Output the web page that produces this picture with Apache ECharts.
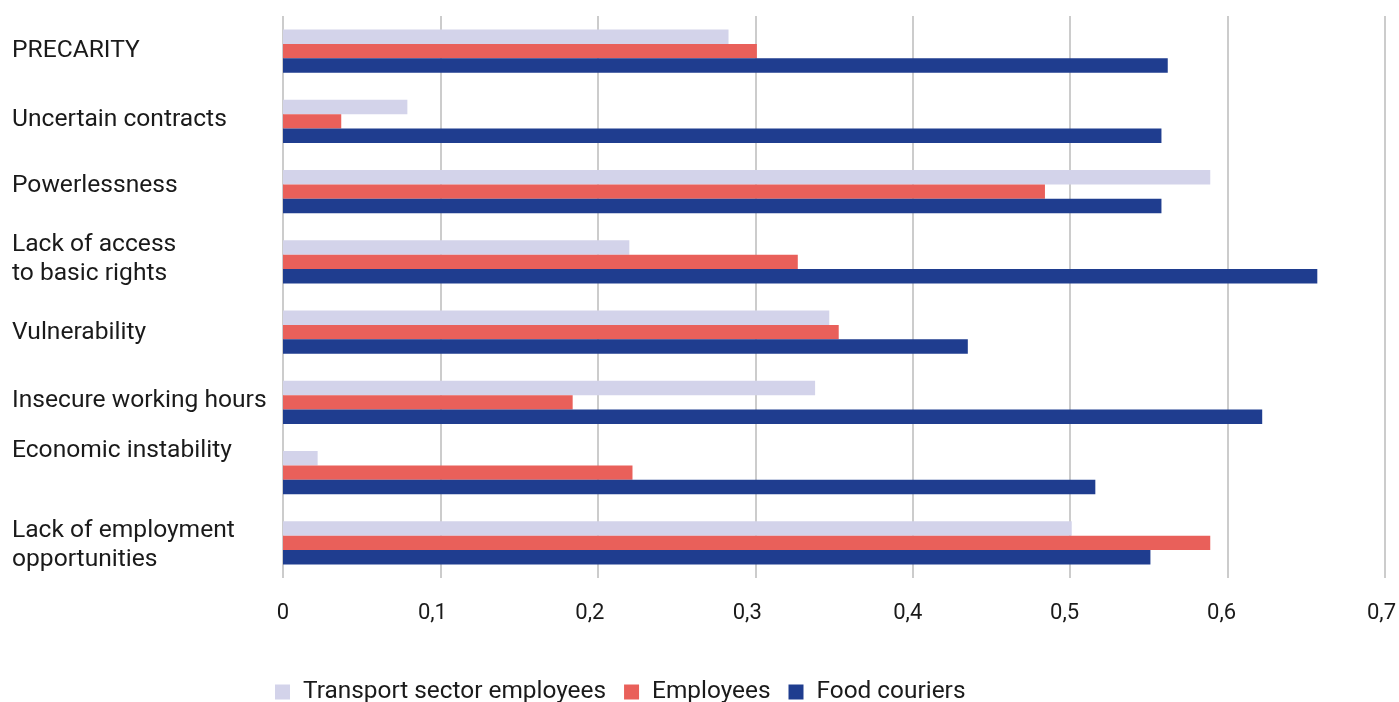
<!DOCTYPE html>
<html><head><meta charset="utf-8">
<script src="https://cdn.jsdelivr.net/npm/echarts@6/dist/echarts.min.js"></script>
<style>html,body{margin:0;padding:0;background:#fff}#c{width:1399px;height:702px}</style>
</head><body><div id="c"></div>
<script>
const categories = ["PRECARITY","Uncertain contracts","Powerlessness","Lack of access\nto basic rights","Vulnerability","Insecure working hours","Economic instability","Lack of employment\nopportunities"];
const labelShift = [0,-2,-6,-3,1,-2,-22,2];
const tickShift = [0,-8,-8,-8,-5,-5.5,-6,-3.5];
const transport = [0.283,0.079,0.589,0.220,0.347,0.338,0.022,0.501];
const employees = [0.301,0.037,0.484,0.327,0.353,0.184,0.222,0.589];
const couriers = [0.562,0.558,0.558,0.657,0.435,0.622,0.516,0.551];
const seriesNames = ["Transport sector employees","Employees","Food couriers"];
const colors = ["#d3d3ea","#e9605a","#1f3d8f"];

const rich = {};
labelShift.forEach((s,i)=>{ rich['s'+i] = {fontSize:24.6,lineHeight:29,color:'#1a1a1a',fontFamily:'Roboto',align:'left',padding:[0,0,-2*s,0]}; });
const xrich = {};
tickShift.forEach((s,i)=>{ xrich['t'+i] = {fontSize:22,color:'#1a1a1a',fontFamily:'Roboto',padding:s<0?[0,-2*s,0,0]:[0,0,0,2*s]}; });
const chart = echarts.init(document.getElementById('c'));
const vals=[transport,employees,couriers];
chart.setOption({
  animation:false,
  textStyle:{fontFamily:'Roboto'},
  grid:{left:283,right:14,top:16,bottom:124,containLabel:false,outerBoundsMode:'none'},
  legend:{top:675,left:270,itemWidth:15,itemHeight:15,itemGap:18,icon:'rect',
    textStyle:{fontSize:24.4,color:'#1a1a1a',fontFamily:'Roboto',padding:[0,0,0,8]},data:seriesNames},
  xAxis:{type:'value',min:0,max:0.7,interval:0.1,
    axisLine:{show:false},axisTick:{show:false},
    splitLine:{lineStyle:{color:'#cccccc',width:2}},
    axisLabel:{fontSize:22,color:'#1a1a1a',margin:24,
      formatter:(v,i)=>'{t'+i+'|'+String(+v.toFixed(1)).replace('.',',')+'}',rich:xrich}},
  yAxis:{type:'category',inverse:true,data:categories,
    axisLine:{show:false},axisTick:{show:false},
    axisLabel:{align:'left',margin:271,fontSize:24.6,color:'#1a1a1a',lineHeight:29,
      formatter:(v,i)=>v.split('\n').map(l=>'{s'+i+'|'+l+'}').join('\n'),rich:rich}},
  series:seriesNames.map((n,i)=>({name:n,type:'bar',data:vals[i],barWidth:14.4,barGap:'0%',
    itemStyle:{color:colors[i]}}))
});
</script></body></html>
